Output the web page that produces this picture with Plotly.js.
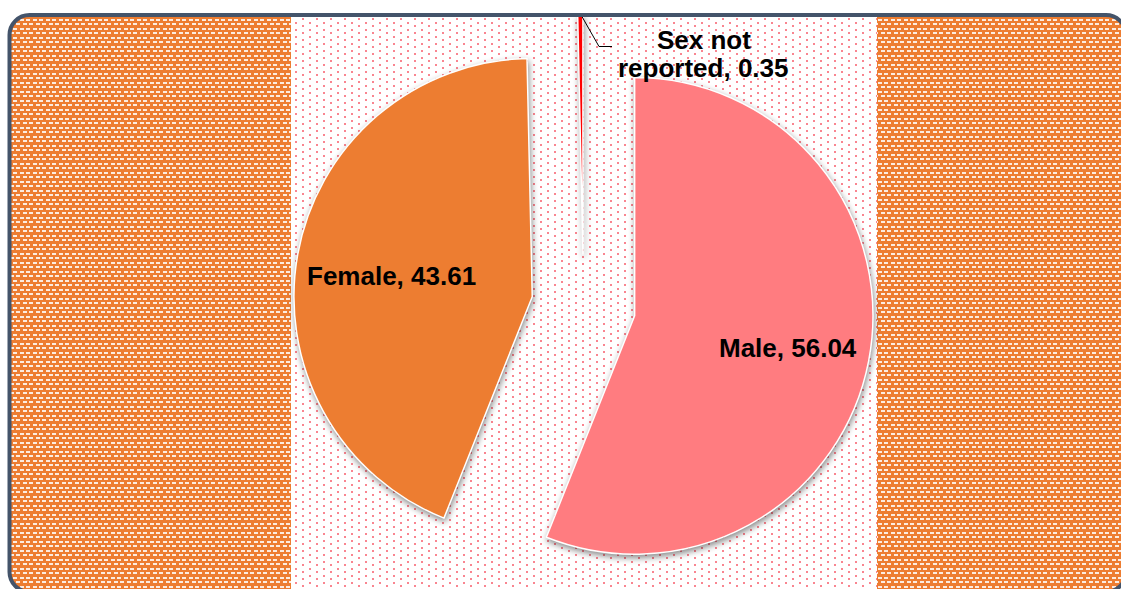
<!DOCTYPE html>
<html>
<head>
<meta charset="utf-8">
<script src="https://cdn.plot.ly/plotly-3.0.1.min.js"></script>
<style>
  html, body { margin:0; padding:0; background:#fff; }
  body { width:1121px; height:589px; overflow:hidden; position:relative; }
  #bg, #chart, #fg { position:absolute; left:0; top:0; }
  #fg { pointer-events:none; }
  .pielayer .slice path.surface { filter: drop-shadow(1px 3px 3px rgba(0,0,0,0.45)); }
</style>
</head>
<body>
<svg id="bg" width="1121" height="589" shape-rendering="crispEdges">
  <defs>
    <pattern id="brick" patternUnits="userSpaceOnUse" width="13" height="9">
      <rect width="13" height="9" fill="#ED7D31"/>
      <rect x="0" y="1" width="4" height="2" fill="#FFFFFF" opacity="0.85"/>
      <rect x="7" y="1" width="4" height="2" fill="#FFFFFF" opacity="0.85"/>
      <rect x="3" y="5" width="4" height="2" fill="#FFFFFF" opacity="0.85"/>
      <rect x="10" y="5" width="3" height="2" fill="#FFFFFF" opacity="0.85"/>
      <rect x="0" y="5" width="1" height="2" fill="#FFFFFF" opacity="0.85"/>
    </pattern>
    <pattern id="dots" patternUnits="userSpaceOnUse" width="14" height="7">
      <rect width="14" height="7" fill="#FFFFFF"/>
      <rect x="1" y="1" width="2" height="2" fill="#F8707D" opacity="0.85"/>
      <rect x="8" y="4" width="2" height="2" fill="#F8707D" opacity="0.85"/>
    </pattern>
    <clipPath id="frameclip"><rect x="9.5" y="15" width="1116.5" height="577" rx="20" ry="20"/></clipPath>
  </defs>
  <g clip-path="url(#frameclip)">
    <rect x="0" y="0" width="1121" height="600" fill="url(#brick)"/>
    <rect x="291" y="0" width="586" height="600" fill="url(#dots)"/>
  </g>
</svg>
<div id="chart"></div>
<svg id="fg" width="1121" height="589">
  <rect x="0" y="0" width="1121" height="13" fill="#fff"/>
  <rect x="9.5" y="15" width="1116.5" height="577" rx="20" ry="20" fill="none" stroke="#44546A" stroke-width="4"/>
</svg>
<script>
// ---- data ----
const labels = ['Male', 'Female', 'Sex not reported'];
const values = [56.04, 43.61, 0.35];
const colors = ['#FF7C80', '#ED7D31', '#FF0000'];

// ---- layout helpers ----
const W = 1121, H = 612;
const FONT = 'Liberation Sans, Arial, Helvetica, sans-serif';
const px = x => x / W;
const py = y => 1 - y / H;

const pieCx = 583.5, pieHalf = 290.4;

const trace = {
  type: 'pie',
  labels: labels,
  values: values,
  sort: false,
  direction: 'clockwise',
  rotation: 0,
  pull: [0.2185, 0.2185, 0.2185],
  marker: { colors: colors, line: { color: '#ffffff', width: 1.5 } },
  textinfo: 'none',
  domain: { x: [px(pieCx - pieHalf), px(pieCx + pieHalf)], y: [0, 1] },
  hoverinfo: 'none',
  showlegend: false
};

const annFont = { family: FONT, size: 26, color: '#000000', weight: 'bold' };
function lab(text, x, y) {
  return { xref: 'paper', yref: 'paper', x: px(x), y: py(y), xanchor: 'center', yanchor: 'middle',
           text: text, showarrow: false, font: annFont };
}

// data labels "Label, value"
const maleText = labels[0] + ', ' + values[0];
const femaleText = labels[1] + ', ' + values[1];
// tiny slice label, split over two lines, with a leader line
const words = labels[2].split(' ');
const line1 = words.slice(0, 2).join(' ');
const line2 = words.slice(2).join(' ') + ', ' + values[2];

const layout = {
  width: W,
  height: H,
  margin: { l: 0, r: 0, t: 0, b: 0, pad: 0 },
  paper_bgcolor: 'rgba(0,0,0,0)',
  plot_bgcolor: 'rgba(0,0,0,0)',
  showlegend: false,
  annotations: [
    lab(maleText, 787.5, 348),
    lab(femaleText, 391, 276),
    lab(line1, 704, 40),
    lab(line2, 703, 68)
  ],
  shapes: [
    { type: 'path', xref: 'paper', yref: 'paper', layer: 'above',
      path: 'M ' + px(580.5) + ' ' + py(14) + ' L ' + px(599) + ' ' + py(46.5) + ' L ' + px(612) + ' ' + py(46.5),
      line: { color: '#000000', width: 1 } }
  ]
};

Plotly.newPlot('chart', [trace], layout, { staticPlot: true, displayModeBar: false });
</script>
</body>
</html>
